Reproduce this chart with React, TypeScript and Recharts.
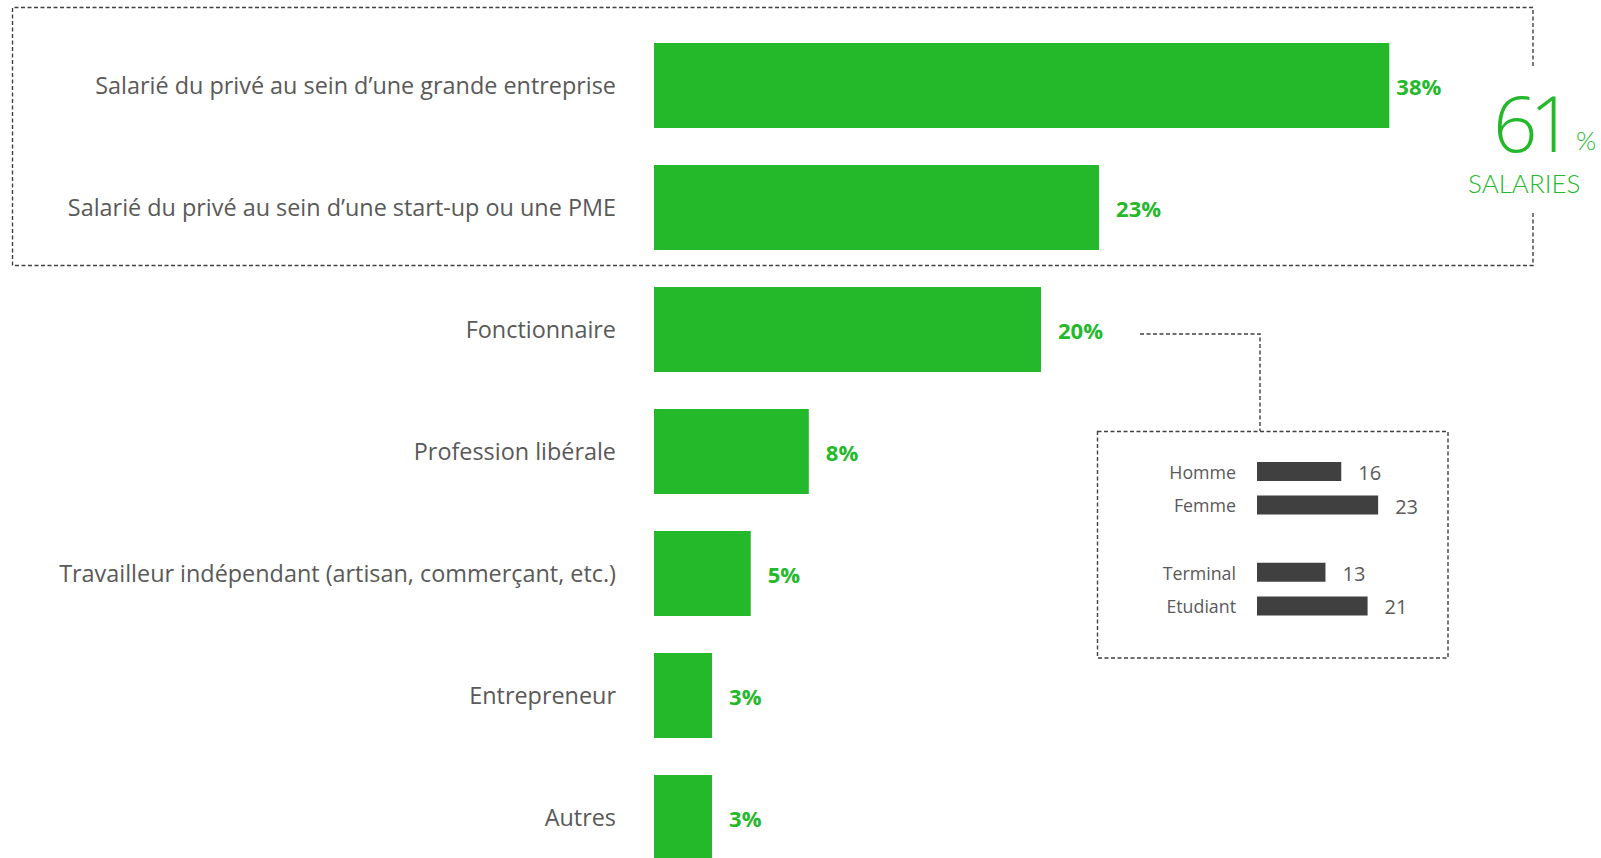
import React from 'react';
import { BarChart, Bar, XAxis, YAxis, LabelList } from 'recharts';

// ---- data ----
const categories = [
  'Salarié du privé au sein d’une grande entreprise',
  'Salarié du privé au sein d’une start-up ou une PME',
  'Fonctionnaire',
  'Profession libérale',
  'Travailleur indépendant (artisan, commerçant, etc.)',
  'Entrepreneur',
  'Autres',
];
const shares = [38, 23, 20, 8, 5, 3, 3];

const insetCategories = ['Homme', 'Femme', '', 'Terminal', 'Etudiant'];
const insetValues: (number | null)[] = [16, 23, null, 13, 21];

const summaryValue = '61';
const summaryUnit = '%';
const summaryLabel = 'SALARIES';

// ---- styles ----
const FONT = '"Open Sans", "Noto Sans", sans-serif';
const THIN = 'Lato, "Open Sans", sans-serif';
const GREEN = '#23B92A';
const GREY_TEXT = '#595959';
const DARK = '#404040';

const mainData = categories.map((name, i) => ({ name, value: shares[i] }));
const insetData = insetCategories.map((name, i) => ({ name, value: insetValues[i] }));

const MainTick = (props: any) => {
  const { x, y, payload } = props;
  return (
    <text x={x} y={y} textAnchor="end" dominantBaseline="central" fontFamily={FONT} fontSize={23.4} fill={GREY_TEXT}>
      {payload.value}
    </text>
  );
};

const MainLabel = (props: any) => {
  const { x, y, width, height, value, index } = props;
  if (value == null) return null;
  const gap = index === 0 ? 7 : 17;
  return (
    <text
      x={Number(x) + Number(width) + gap}
      y={Number(y) + Number(height) / 2}
      dominantBaseline="central"
      fontFamily={FONT}
      fontWeight={700}
      fontSize={22}
      fill={GREEN}
    >
      {value}%
    </text>
  );
};

const InsetTick = (props: any) => {
  const { x, y, payload } = props;
  return (
    <text x={x} y={y} textAnchor="end" dominantBaseline="central" fontFamily={FONT} fontSize={17.8} fill={GREY_TEXT}>
      {payload.value}
    </text>
  );
};

const InsetLabel = (props: any) => {
  const { x, y, width, height, value } = props;
  if (value == null) return null;
  return (
    <text
      x={Number(x) + Number(width) + 17}
      y={Number(y) + Number(height) / 2 + 1}
      dominantBaseline="central"
      fontFamily={FONT}
      fontSize={20}
      fill={GREY_TEXT}
    >
      {value}
    </text>
  );
};

export default function App() {
  const dash = { stroke: DARK, strokeWidth: 1.4, strokeDasharray: '4 2.5', fill: 'none' } as const;
  return (
    <div style={{ position: 'absolute', left: 0, top: 0, width: 1601, height: 858, overflow: 'hidden', background: '#fff' }}>
      <div style={{ position: 'absolute', left: 0, top: 0 }}>
        <BarChart
          width={1601}
          height={880}
          data={mainData}
          layout="vertical"
          margin={{ top: 24, right: 173, bottom: 2, left: 0 }}
        >
          <XAxis type="number" domain={[0, 40]} hide />
          <YAxis
            type="category"
            dataKey="name"
            width={654}
            tickLine={false}
            axisLine={false}
            tickSize={0}
            tickMargin={38}
            interval={0}
            tick={<MainTick />}
          />
          <Bar dataKey="value" fill={GREEN} barSize={85} isAnimationActive={false}>
            <LabelList dataKey="value" content={MainLabel} />
          </Bar>
        </BarChart>
      </div>

      <div style={{ position: 'absolute', left: 1097, top: 431 }}>
        <BarChart
          width={351}
          height={227}
          data={insetData}
          layout="vertical"
          margin={{ top: 24, right: 33, bottom: 35, left: 0 }}
        >
          <XAxis type="number" domain={[0, 30]} hide />
          <YAxis
            type="category"
            dataKey="name"
            width={160}
            tickLine={false}
            axisLine={false}
            tickSize={0}
            tickMargin={21}
            interval={0}
            tick={<InsetTick />}
          />
          <Bar dataKey="value" fill={DARK} barSize={19} isAnimationActive={false}>
            <LabelList dataKey="value" content={InsetLabel} />
          </Bar>
        </BarChart>
      </div>

      <svg width={1601} height={858} style={{ position: 'absolute', left: 0, top: 0, pointerEvents: 'none' }}>
        <path d="M1533,66 L1533,7.5 L12.5,7.5 L12.5,265.5 L1533,265.5 L1533,211" {...dash} />
        <path d="M1140,334 L1260,334 L1260,431" {...dash} />
        <rect x={1097.5} y={431.5} width={350.5} height={226.5} {...dash} />
        <text x={1493} y={152} fontFamily={FONT} fontWeight={300} fontSize={78} fill={GREEN} letterSpacing={-8}>
          {summaryValue}
        </text>
        <text x={1576} y={150} fontFamily={THIN} fontWeight={300} fontSize={26} fill={GREEN}>
          {summaryUnit}
        </text>
        <text x={1468} y={193} fontFamily={THIN} fontWeight={300} fontSize={26} fill={GREEN}>
          {summaryLabel}
        </text>
      </svg>
    </div>
  );
}
